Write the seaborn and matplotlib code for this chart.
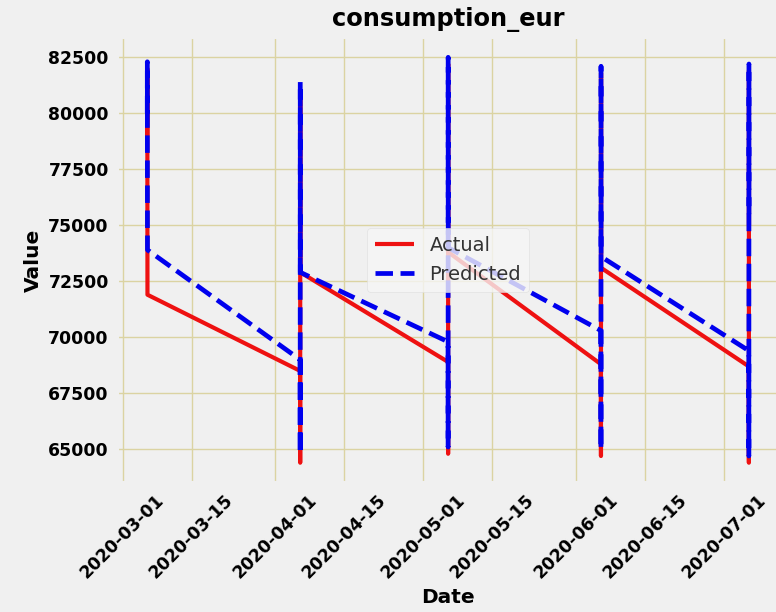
import numpy as np
import pandas as pd
import matplotlib
matplotlib.use("Agg")
import matplotlib.pyplot as plt
import seaborn as sns

# sample days (one cluster of readings per month) and reading minutes
days = ["2020-03-06", "2020-04-06", "2020-05-06", "2020-06-06", "2020-07-06"]
minutes = [0, 20, 40, 59]

# values, one list per day
actual_mar = [79000, 82000, 75500, 71900]
actual_apr = [68500, 64400, 80900, 72900]
actual_may = [68900, 64800, 82200, 73800]
actual_jun = [68800, 64700, 81800, 73100]
actual_jul = [68700, 64400, 81900, 75000]

pred_mar = [80000, 82300, 76500, 73900]
pred_apr = [69000, 64800, 81400, 72900]
pred_may = [69800, 65100, 82500, 74000]
pred_jun = [70300, 65000, 82100, 73600]
pred_jul = [69400, 64700, 82200, 75500]

actual = actual_mar + actual_apr + actual_may + actual_jun + actual_jul
predicted = pred_mar + pred_apr + pred_may + pred_jun + pred_jul

dates = [pd.Timestamp(d) + pd.Timedelta(minutes=m) for d in days for m in minutes]
df = pd.DataFrame({"Date": dates, "Actual": actual, "Predicted": predicted})

plt.style.use("fivethirtyeight")
plt.rcParams["grid.color"] = "#dbd3a2"
plt.rcParams["grid.linewidth"] = 1.0

fig = plt.figure(figsize=(7.76, 6.12), dpi=100)
ax = fig.add_axes([0.151, 0.2108, 0.853, 0.7287])

sns.lineplot(data=df, x="Date", y="Actual", color="#ee1111", linewidth=3,
             label="Actual", sort=False, ax=ax)
sns.lineplot(data=df, x="Date", y="Predicted", color="#0000ee", linewidth=3.4,
             linestyle="--", label="Predicted", sort=False, ax=ax)

ax.set_title("consumption_eur", fontsize=17.4, fontweight="bold", pad=8)
ax.set_xlabel("Date", fontsize=14.5, fontweight="bold")
ax.set_ylabel("Value", fontsize=14.5, fontweight="bold")
plt.setp(ax.get_xticklabels(), rotation=45, fontsize=12.4, fontweight="bold")
plt.setp(ax.get_yticklabels(), fontsize=12.4, fontweight="bold")
ax.tick_params(axis="both", pad=6)

leg = ax.legend(loc="center", fontsize=14, frameon=True)
leg.get_frame().set_facecolor("#f6f6f6")
leg.get_frame().set_edgecolor("#dddddd")
for t in leg.get_texts():
    t.set_color("#333333")

fig.savefig("out.png", facecolor="#f0f0f0")
